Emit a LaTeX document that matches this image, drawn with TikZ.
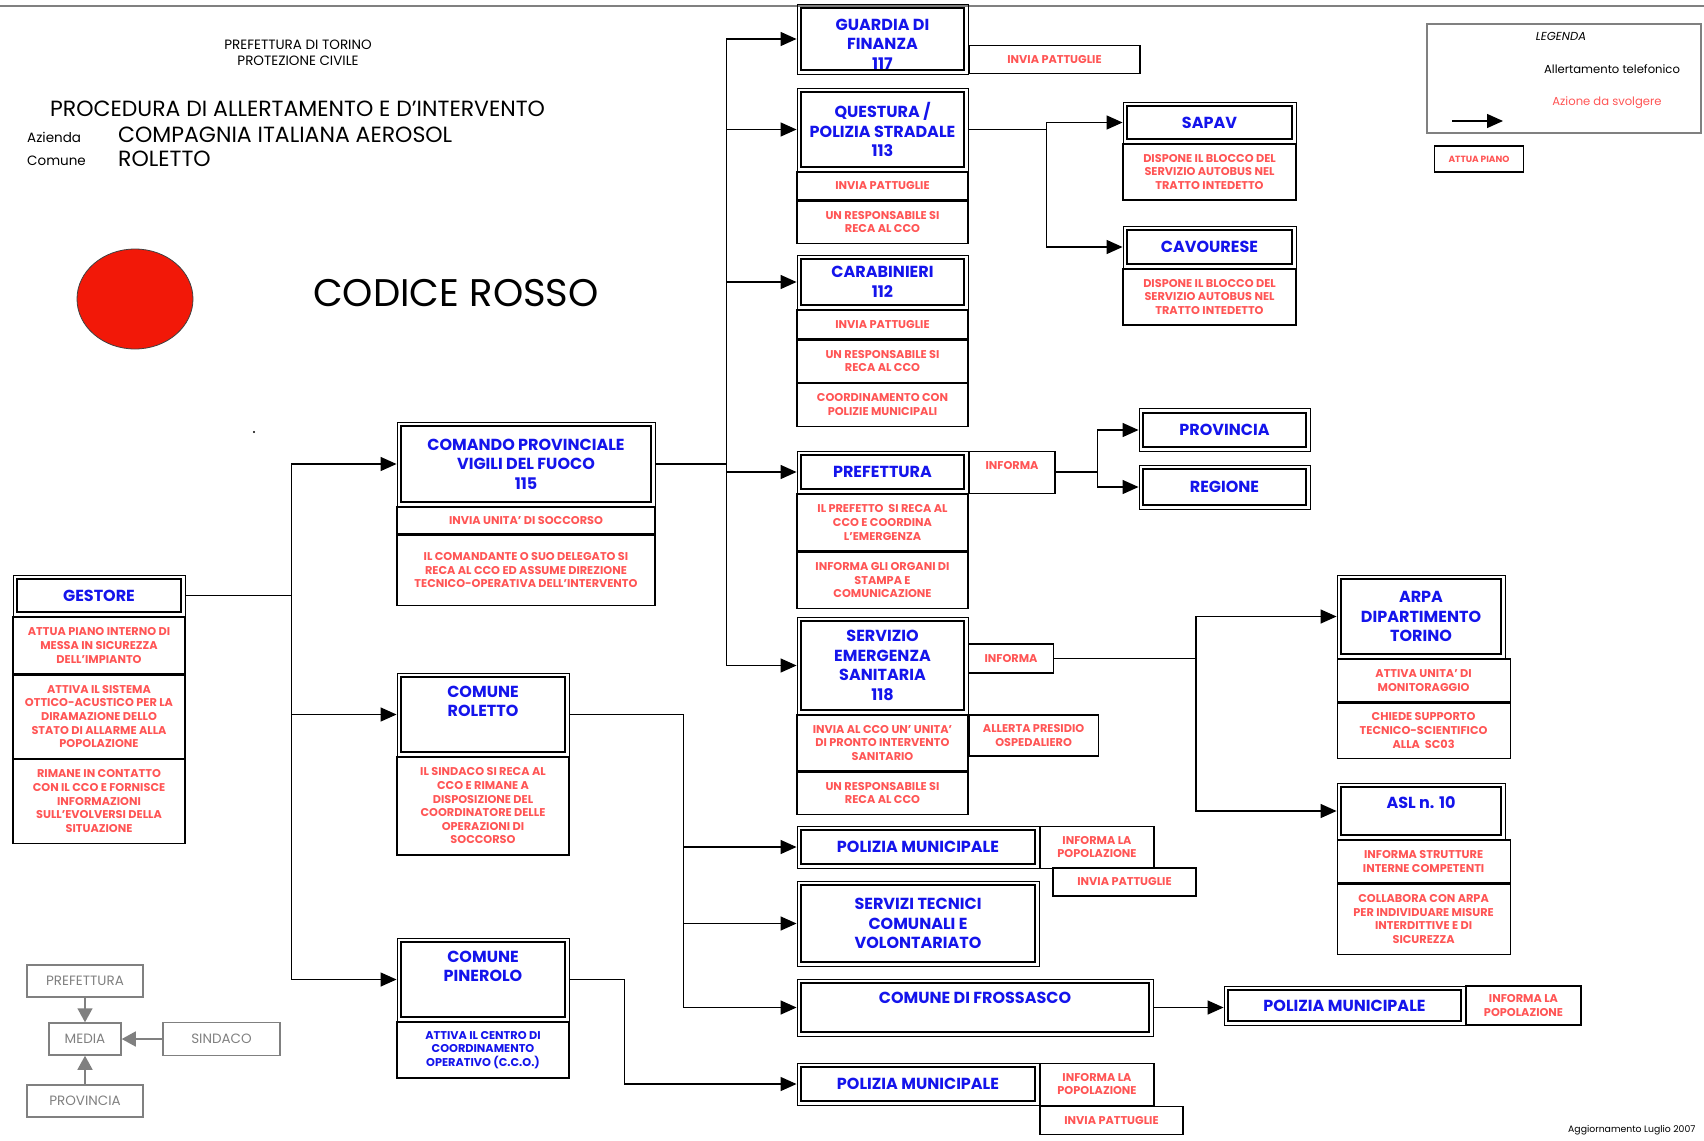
\documentclass[tikz,border=0pt]{standalone}
\usepackage{fontspec}
\setmainfont{Poppins}
\usepackage{tikz}
\usetikzlibrary{arrows.meta,positioning}

\definecolor{hblue}{RGB}{20,20,235}
\definecolor{ared}{RGB}{255,85,85}
\definecolor{alarm}{RGB}{242,24,8}
\definecolor{gline}{RGB}{128,128,128}

\newcommand\hdrfont{\fontsize{16}{19.5}\selectfont\bfseries}
\newcommand\actfont{\fontsize{11.3}{13.6}\selectfont\bfseries}
\newcommand\titlefont{\fontsize{22}{24}\selectfont}
\newcommand\labfont{\fontsize{13.5}{15}\selectfont}
\newcommand\smallfont{\fontsize{13.5}{16}\selectfont}
\newcommand\bigfont{\fontsize{38.5}{42}\selectfont}
\newcommand\legfont{\fontsize{11.6}{13}\selectfont}
\newcommand\gfont{\fontsize{13.5}{15}\selectfont}
\newcommand\tinyfont{\fontsize{9}{10}\selectfont\bfseries}

\begin{document}
\begin{tikzpicture}[
  x=1pt, y=-1pt,
  hdr/.style={draw=black, line width=0.9pt, text=hblue, font=\hdrfont, align=center, inner sep=2pt,
              path picture={\draw[draw=black, line width=2pt]
                ([shift={(4.3pt,-4.3pt)}]path picture bounding box.north west) rectangle
                ([shift={(-4.3pt,4.3pt)}]path picture bounding box.south east);}},
  act/.style={draw=black, line width=1.1pt, text=ared, font=\actfont, align=center, inner sep=1pt},
  toptext/.style={anchor=north, yshift=-12pt, font=\hdrfont, text=hblue, align=center, inner sep=1pt},
  txt/.style={anchor=west, inner sep=0pt},
  gbox/.style={draw=gline, line width=1.5pt, text=gline, font=\gfont, inner sep=2pt},
  arr/.style={-{Triangle[length=16pt,width=14pt]}, line width=1.4pt},
  garr/.style={-{Triangle[length=14pt,width=15pt]}, line width=1.5pt, draw=gline}
]
\useasboundingbox (0,0) rectangle (1704,1140);
\draw[gline, line width=1.5pt] (0,6) -- (1704,6);

% intestazione
\node[font=\smallfont, align=center] (prefto) at (298,53) {PREFETTURA DI TORINO\\PROTEZIONE CIVILE};
\node[txt, font=\titlefont] (procedura) at (50,109) {PROCEDURA DI ALLERTAMENTO E D’INTERVENTO};
\node[txt, font=\labfont] (azienda) at (27,137) {Azienda};
\node[txt, font=\titlefont] (aziendanome) at (118,135) {COMPAGNIA ITALIANA AEROSOL};
\node[txt, font=\labfont] (comune) at (27,161) {Comune};
\node[txt, font=\titlefont] (comunenome) at (118,159) {ROLETTO};
\draw[draw=black!75, line width=0.8pt, fill=alarm] (135,299) ellipse [x radius=58, y radius=50];
\node[font=\bigfont] (codice) at (456,293) {CODICE ROSSO};
\fill (254,432) circle (1.2pt);

% legenda
\draw[gline, line width=1.2pt] (1427,24) rectangle (1701,133);
\node[font=\legfont\itshape] (legenda) at (1561,36) {LEGENDA};
\node[font=\legfont] (alltel) at (1612,69) {Allertamento telefonico};
\node[font=\legfont, text=ared] (azione) at (1607,103) {Azione da svolgere};
\coordinate (legA) at (1452,121);
\coordinate (legB) at (1503,121);
\draw[arr] (legA) -- (legB);
\node[act, font=\tinyfont, minimum width=89, minimum height=26] (attua) at (1479,159) {ATTUA PIANO};

% gestore
\node[hdr, minimum width=172, minimum height=41] (gestore) at (99,595.5) {GESTORE};
\node[act, minimum width=172, minimum height=57, below=0pt of gestore] (gest1) {ATTUA PIANO INTERNO DI\\MESSA IN SICUREZZA\\DELL’IMPIANTO};
\node[act, minimum width=172, minimum height=83, below=0pt of gest1] (gest2) {ATTIVA IL SISTEMA\\OTTICO-ACUSTICO PER LA\\DIRAMAZIONE DELLO\\STATO DI ALLARME ALLA\\POPOLAZIONE};
\node[act, minimum width=172, minimum height=84, below=0pt of gest2] (gest3) {RIMANE IN CONTATTO\\CON IL CCO E FORNISCE\\INFORMAZIONI\\SULL’EVOLVERSI DELLA\\SITUAZIONE};

% vigili del fuoco
\node[hdr, minimum width=258, minimum height=84] (vvf) at (526,464) {COMANDO PROVINCIALE\\VIGILI DEL FUOCO\\115};
\node[act, minimum width=258, minimum height=27, below=0pt of vvf] (vvf1) {INVIA UNITA’ DI SOCCORSO};
\node[act, minimum width=258, minimum height=70, below=0pt of vvf1] (vvf2) {IL COMANDANTE O SUO DELEGATO SI\\RECA AL CCO ED ASSUME DIREZIONE\\TECNICO-OPERATIVA DELL’INTERVENTO};

% comuni
\node[hdr, minimum width=172, minimum height=83, label={[toptext]north:{COMUNE\\ROLETTO}}] (roletto) at (483,714.5) {};
\node[act, minimum width=172, minimum height=98, below=0pt of roletto] (rol1) {IL SINDACO SI RECA AL\\CCO E RIMANE A\\DISPOSIZIONE DEL\\COORDINATORE DELLE\\OPERAZIONI DI\\SOCCORSO};
\node[hdr, minimum width=172, minimum height=83, label={[toptext]north:{COMUNE\\PINEROLO}}] (pinerolo) at (483,979.5) {};
\node[act, text=hblue, minimum width=172, minimum height=56, below=0pt of pinerolo] (pin1) {ATTIVA IL CENTRO DI\\COORDINAMENTO\\OPERATIVO (C.C.O.)};

% forze dell'ordine
\node[hdr, minimum width=171, minimum height=70, text depth=0pt, text height=61pt] (gdf) at (882.5,39) {GUARDIA DI\\FINANZA\\117};
\node[act, minimum width=171, minimum height=28, anchor=south west] (gdf1) at (gdf.south east) {INVIA PATTUGLIE};
\node[hdr, minimum width=171, minimum height=83] (questura) at (882.5,129.5) {QUESTURA /\\POLIZIA STRADALE\\113};
\node[act, minimum width=171, minimum height=28, below=0pt of questura] (que1) {INVIA PATTUGLIE};
\node[act, minimum width=171, minimum height=42, below=0pt of que1] (que2) {UN RESPONSABILE SI\\RECA AL CCO};
\node[hdr, minimum width=171, minimum height=54] (cc) at (882.5,282) {CARABINIERI\\112};
\node[act, minimum width=171, minimum height=29, below=0pt of cc] (cc1) {INVIA PATTUGLIE};
\node[act, minimum width=171, minimum height=42, below=0pt of cc1] (cc2) {UN RESPONSABILE SI\\RECA AL CCO};
\node[act, minimum width=171, minimum height=43, below=0pt of cc2] (cc3) {COORDINAMENTO CON\\POLIZIE MUNICIPALI};

% trasporti
\node[hdr, minimum width=173, minimum height=41] (sapav) at (1209.5,122.5) {SAPAV};
\node[act, minimum width=173, minimum height=56, below=0pt of sapav] (sapav1) {DISPONE IL BLOCCO DEL\\SERVIZIO AUTOBUS NEL\\TRATTO INTEDETTO};
\node[hdr, minimum width=173, minimum height=42] (cavourese) at (1209.5,247) {CAVOURESE};
\node[act, minimum width=173, minimum height=56, below=0pt of cavourese] (cav1) {DISPONE IL BLOCCO DEL\\SERVIZIO AUTOBUS NEL\\TRATTO INTEDETTO};

% prefettura
\node[hdr, minimum width=171, minimum height=42] (pref) at (882.5,472) {PREFETTURA};
\node[act, minimum width=171, minimum height=57, below=0pt of pref] (pref1) {IL PREFETTO~~SI RECA AL\\CCO E COORDINA\\L’EMERGENZA};
\node[act, minimum width=171, minimum height=56, below=0pt of pref1] (pref2) {INFORMA GLI ORGANI DI\\STAMPA E\\COMUNICAZIONE};
\node[act, minimum width=86, minimum height=42, text depth=13pt, anchor=north west] (prefinf) at (pref.north east) {INFORMA};
\node[hdr, minimum width=171, minimum height=43] (provincia) at (1224.5,430) {PROVINCIA};
\node[hdr, minimum width=171, minimum height=44] (regione) at (1224.5,487) {REGIONE};

% sanita
\node[hdr, minimum width=171, minimum height=97] (se) at (882.5,665.5) {SERVIZIO\\EMERGENZA\\SANITARIA\\118};
\node[act, minimum width=171, minimum height=56, below=0pt of se] (se1) {INVIA AL CCO UN’ UNITA’\\DI PRONTO INTERVENTO\\SANITARIO};
\node[act, minimum width=171, minimum height=42, below=0pt of se1] (se2) {UN RESPONSABILE SI\\RECA AL CCO};
\node[act, minimum width=85, minimum height=29, anchor=west] (seinf) at (968,658.5) {INFORMA};
\node[act, minimum width=129, minimum height=41, anchor=north west] (seosp) at (se1.north east) {ALLERTA PRESIDIO\\OSPEDALIERO};
\node[hdr, minimum width=168, minimum height=83] (arpa) at (1421,616.5) {ARPA\\DIPARTIMENTO\\TORINO};
\node[act, minimum width=173, minimum height=43, anchor=north west] (arpa1) at (arpa.south west) {ATTIVA UNITA’ DI\\MONITORAGGIO};
\node[act, minimum width=173, minimum height=55, below=0pt of arpa1] (arpa2) {CHIEDE SUPPORTO\\TECNICO-SCIENTIFICO\\ALLA~~SC03};
\node[hdr, minimum width=168, minimum height=56, text depth=16pt] (asl) at (1421,811) {ASL n. 10};
\node[act, minimum width=173, minimum height=43, anchor=north west] (asl1) at (asl.south west) {INFORMA STRUTTURE\\INTERNE COMPETENTI};
\node[act, minimum width=173, minimum height=70, below=0pt of asl1] (asl2) {COLLABORA CON ARPA\\PER INDIVIDUARE MISURE\\INTERDITTIVE E DI\\SICUREZZA};

% strutture comunali
\node[hdr, minimum width=242, minimum height=42] (pm1) at (918,847) {POLIZIA MUNICIPALE};
\node[act, minimum width=114, minimum height=42, anchor=north west] (pm1a) at (pm1.north east) {INFORMA LA\\POPOLAZIONE};
\node[act, minimum width=143, minimum height=28] (pm1b) at (1124.5,882) {INVIA PATTUGLIE};
\node[hdr, minimum width=242, minimum height=85] (servizi) at (918,923.5) {SERVIZI TECNICI\\COMUNALI E\\VOLONTARIATO};
\node[hdr, minimum width=356, minimum height=57, text depth=19pt] (frossasco) at (975,1007.5) {COMUNE DI FROSSASCO};
\node[hdr, minimum width=241, minimum height=39] (pm3) at (1344.5,1005.5) {POLIZIA MUNICIPALE};
\node[act, minimum width=115, minimum height=39, anchor=west] (pm3a) at (pm3.east) {INFORMA LA\\POPOLAZIONE};
\node[hdr, minimum width=242, minimum height=42] (pm2) at (918,1084) {POLIZIA MUNICIPALE};
\node[act, minimum width=114, minimum height=42, anchor=north west] (pm2a) at (pm2.north east) {INFORMA LA\\POPOLAZIONE};
\node[act, minimum width=143, minimum height=28, anchor=north west] (pm2b) at (pm2a.south west) {INVIA PATTUGLIE};

% schema media
\node[gbox, minimum width=116, minimum height=32] (gpref) at (85,981) {PREFETTURA};
\node[gbox, minimum width=72, minimum height=32] (gmedia) at (85,1039) {MEDIA};
\node[gbox, minimum width=117, minimum height=33] (gsind) at (221.5,1039) {SINDACO};
\node[gbox, minimum width=116, minimum height=32] (gprov) at (85,1101) {PROVINCIA};
\draw[garr] (gpref) -- (gmedia);
\draw[garr] (gsind) -- (gmedia);
\draw[garr] (gprov) -- (gmedia);

\node[anchor=east, font=\fontsize{9.3}{10}\selectfont] (agg) at (1699,1130) {Aggiornamento Luglio 2007};

% collegamenti
\draw[arr] (gestore.east) -- ++(106,0) |- (vvf.west);
\draw[arr] (gestore.east) -- ++(106,0) |- (roletto.west);
\draw[arr] (gestore.east) -- ++(106,0) |- (pinerolo.west);
\draw[arr] (vvf.east) -- ++(71,0) |- (gdf.west);
\draw[arr] (vvf.east) -- ++(71,0) |- (questura.west);
\draw[arr] (vvf.east) -- ++(71,0) |- (cc.west);
\draw[arr] (vvf.east) -- ++(71,0) |- (pref.west);
\draw[arr] (vvf.east) -- ++(71,0) |- (se.west);
\draw[arr] (questura.east) -- ++(78,0) |- (sapav.west);
\draw[arr] (questura.east) -- ++(78,0) |- (cavourese.west);
\draw[arr] (prefinf.east) -- ++(42,0) |- (provincia.west);
\draw[arr] (prefinf.east) -- ++(42,0) |- (regione.west);
\draw[arr] (seinf.east) -- ++(142,0) |- (arpa.west);
\draw[arr] (seinf.east) -- ++(142,0) |- (asl.west);
\draw[arr] (roletto.east) -- ++(114,0) |- (pm1.west);
\draw[arr] (roletto.east) -- ++(114,0) |- (servizi.west);
\draw[arr] (roletto.east) -- ++(114,0) |- (frossasco.west);
\draw[arr] (pinerolo.east) -- ++(55,0) |- (pm2.west);
\draw[arr] (frossasco.east) -- (frossasco.east -| pm3.west);
\end{tikzpicture}
\end{document}
